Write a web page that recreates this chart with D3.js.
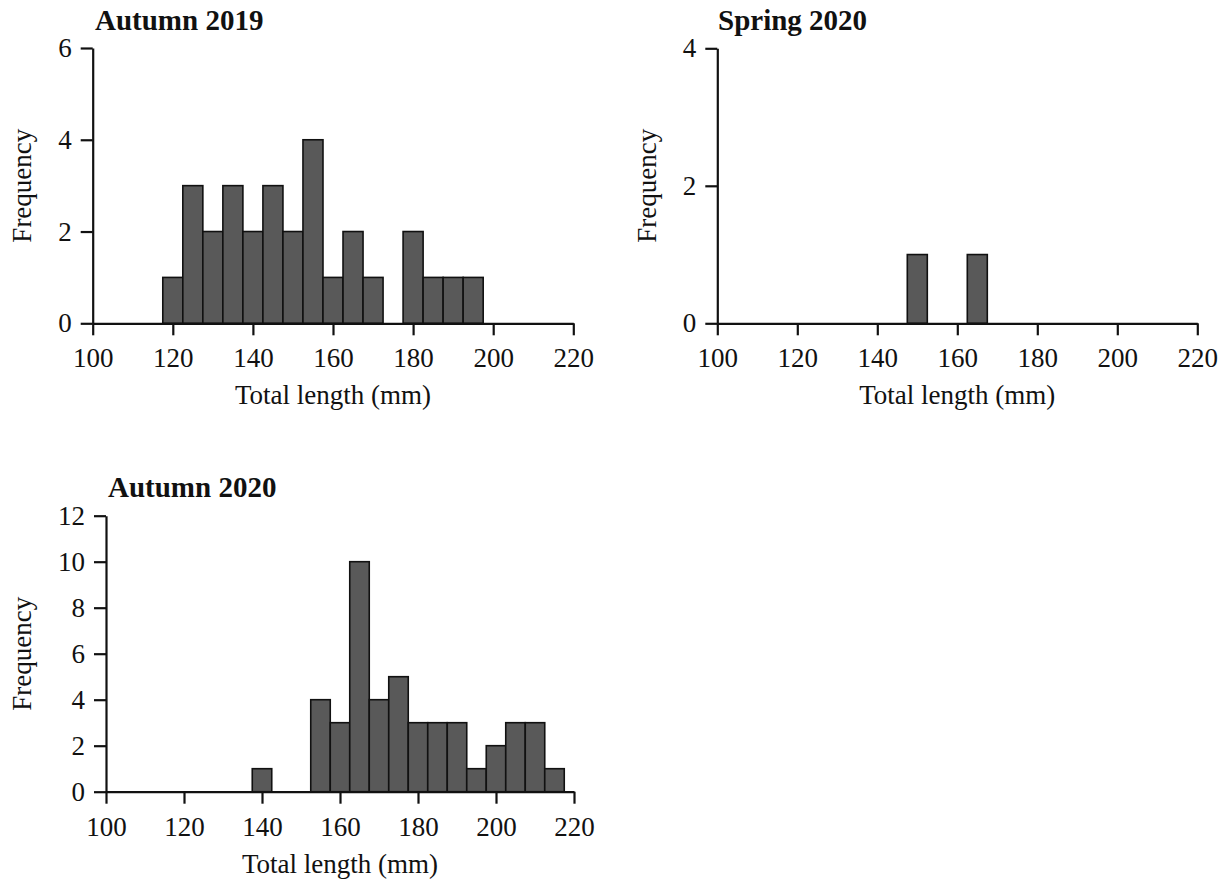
<!DOCTYPE html>
<html>
<head>
<meta charset="utf-8">
<script src="https://cdn.jsdelivr.net/npm/d3@7"></script>
<style>
  html, body { margin: 0; padding: 0; background: #fff; }
  svg { display: block; }
  text { font-family: "Liberation Serif", "Times New Roman", serif; fill: #111; }
</style>
</head>
<body>
<svg id="chart" width="1228" height="886"></svg>
<script>
// Length-frequency histograms, 5 mm bins (bin centres in mm)
const autumn2019Bins   = [120, 125, 130, 135, 140, 145, 150, 155, 160, 165, 170, 175, 180, 185, 190, 195];
const autumn2019Counts = [1, 3, 2, 3, 2, 3, 2, 4, 1, 2, 1, 0, 2, 1, 1, 1];

const spring2020Bins   = [150, 165];
const spring2020Counts = [1, 1];

const autumn2020Bins   = [140, 155, 160, 165, 170, 175, 180, 185, 190, 195, 200, 205, 210, 215];
const autumn2020Counts = [1, 4, 3, 10, 4, 5, 3, 3, 3, 1, 2, 3, 3, 1];

const lengthTicks = [100, 120, 140, 160, 180, 200, 220];
const yTicks2019  = [0, 2, 4, 6];
const yTicksSpr   = [0, 2, 4];
const yTicks2020  = [0, 2, 4, 6, 8, 10, 12];

const panelTitles = ["Autumn 2019", "Spring 2020", "Autumn 2020"];
const xLabel = "Total length (mm)";
const yLabel = "Frequency";

const binWidth = 5;
const svg = d3.select("#chart");

const panels = [
  { title: panelTitles[0], bins: autumn2019Bins, counts: autumn2019Counts, yMax: 6,  yTicks: yTicks2019,
    x0: 92.7, x1: 573.3, yTop: 48, yBot: 323.3, titleX: 95, titleY: 30, yLabelX: 31 },
  { title: panelTitles[1], bins: spring2020Bins, counts: spring2020Counts, yMax: 4,  yTicks: yTicksSpr,
    x0: 717.3, x1: 1197.3, yTop: 48.3, yBot: 323.3, titleX: 718, titleY: 30, yLabelX: 656 },
  { title: panelTitles[2], bins: autumn2020Bins, counts: autumn2020Counts, yMax: 12, yTicks: yTicks2020,
    x0: 106, x1: 574, yTop: 515.7, yBot: 791.7, titleX: 108, titleY: 497, yLabelX: 31 }
];

panels.forEach(p => {
  const x = d3.scaleLinear().domain([100, 220]).range([p.x0, p.x1]);
  const y = d3.scaleLinear().domain([0, p.yMax]).range([p.yBot, p.yTop]);
  const g = svg.append("g");

  // bars (empty bins are left blank)
  const data = p.bins.map((b, i) => ({ c: b, n: p.counts[i] })).filter(d => d.n > 0);
  g.selectAll("rect.bar").data(data).join("rect")
    .attr("class", "bar")
    .attr("x", d => x(d.c - binWidth / 2))
    .attr("width", d => x(d.c + binWidth / 2) - x(d.c - binWidth / 2))
    .attr("y", d => y(d.n))
    .attr("height", d => y(0) - y(d.n))
    .attr("fill", "#595959")
    .attr("stroke", "#111")
    .attr("stroke-width", 1.6);

  // x axis
  const xa = g.append("g")
    .attr("transform", `translate(0,${p.yBot})`)
    .call(d3.axisBottom(x).tickValues(lengthTicks).tickSize(12).tickSizeOuter(0)
      .tickPadding(13).tickFormat(d3.format("d")));
  // y axis
  const ya = g.append("g")
    .attr("transform", `translate(${p.x0},0)`)
    .call(d3.axisLeft(y).tickValues(p.yTicks).tickSize(12).tickSizeOuter(0)
      .tickPadding(9).tickFormat(d3.format("d")));

  [xa, ya].forEach(a => {
    a.attr("font-size", null).attr("font-family", null);
    a.select(".domain").attr("stroke", "#111").attr("stroke-width", 2.2);
    a.selectAll(".tick line").attr("stroke", "#111").attr("stroke-width", 2.2);
    a.selectAll(".tick text")
      .style("font-size", "27px")
      .style("font-family", "'Liberation Serif', 'Times New Roman', serif")
      .attr("fill", "#111");
  });

  // panel title
  g.append("text")
    .attr("x", p.titleX).attr("y", p.titleY)
    .style("font-size", "29px").style("font-weight", "bold")
    .text(p.title);

  // x label
  g.append("text")
    .attr("x", (p.x0 + p.x1) / 2).attr("y", p.yBot + 81)
    .attr("text-anchor", "middle").style("font-size", "27px")
    .text(xLabel);

  // y label
  g.append("text")
    .attr("transform", `translate(${p.yLabelX},${(p.yTop + p.yBot) / 2}) rotate(-90)`)
    .attr("text-anchor", "middle").style("font-size", "27px")
    .text(yLabel);
});
</script>
</body>
</html>
